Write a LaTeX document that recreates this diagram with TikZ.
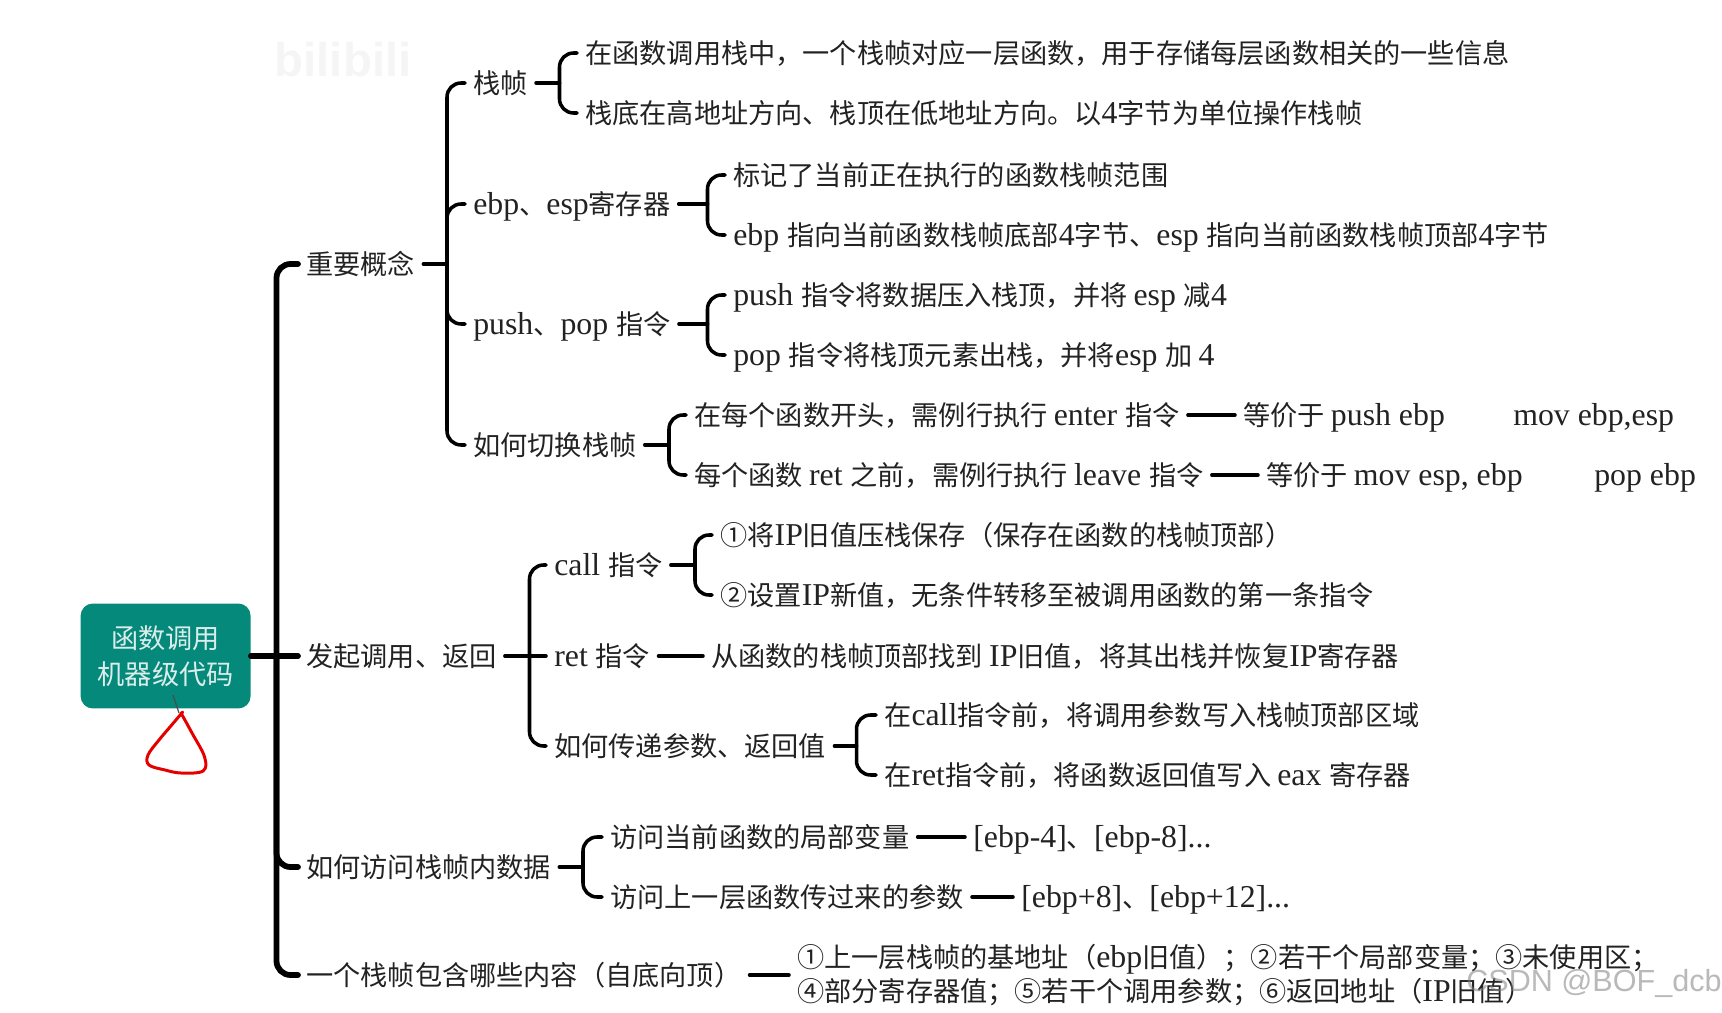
\documentclass[tikz,border=0pt]{standalone}
\usepackage{fontspec}
\setmainfont{Noto Sans CJK SC}
\newfontfamily\enfont[Scale=1.17]{Liberation Serif}
\newfontfamily\wmfont{Liberation Sans}
\newcommand{\en}[1]{{\enfont #1}}
\definecolor{rootgreen}{HTML}{05897A}
\definecolor{inkgray}{HTML}{222222}

\begin{document}
\begin{tikzpicture}[x=0.02cm,y=-0.02cm,
  lbl/.style={anchor=west,inner xsep=8*0.567pt,inner ysep=0pt,text=inkgray,font=\fontsize{15.47}{19.4}\selectfont},
  row/.style={lbl,text height=13.4pt,text depth=1.8pt},
  rootbox/.style={draw=none,fill=rootgreen,rounded corners=7pt,minimum width=3.4cm,minimum height=2.1cm,inner sep=0pt,align=center,text=white!85!rootgreen,font=\fontsize{15.47}{20.5}\selectfont},
  lvone/.style={line width=3.3pt,black,line cap=round,rounded corners=8pt},
  lvtwo/.style={line width=2pt,black,line cap=round,rounded corners=8pt},
  wmark/.style={inner sep=0pt,anchor=east,text=gray,opacity=0.55,font=\wmfont\fontsize{17.4}{20}\selectfont}]
\useasboundingbox (0,0) rectangle (1722,1013);
\node[anchor=center,inner sep=0pt,text=gray!8,font=\wmfont\bfseries\fontsize{27}{27}\selectfont] (bili) at (343,60) {bilibili};
% root and first level
\node[rootbox] (root) at (165.6,656) {函数调用\\机器级代码};
\node[row] (zy) at (298,264) {重要概念};
\node[row] (fq) at (298,656) {发起调用、返回};
\node[row] (fw) at (298,867) {如何访问栈帧内数据};
\node[row] (nr) at (298,975) {一个栈帧包含哪些内容（自底向顶）};
\coordinate (j0) at (276.5,656);
\draw[lvone] (root.east) -- (fq.west);
\foreach \c in {zy,fw,nr} \draw[lvone] (j0) |- (\c.west);
% zhongyao gainian
\node[row] (zhen) at (465,83) {栈帧};
\node[row] (reg) at (465,204) {\en{ebp}、\en{esp}寄存器};
\node[row] (pp) at (465,324) {\en{push}、\en{pop }指令};
\node[row] (sw) at (465,445) {如何切换栈帧};
\coordinate (j1) at (447,264);
\draw[lvtwo] (zy.east) -- (j1);
\foreach \c in {zhen,reg,pp,sw} \draw[lvtwo] (j1) |- (\c.west);
\node[row] (zhen1) at (577,53) {在函数调用栈中，一个栈帧对应一层函数，用于存储每层函数相关的一些信息};
\node[row] (zhen2) at (577,113) {栈底在高地址方向、栈顶在低地址方向。以\en{4}字节为单位操作栈帧};
\coordinate (j2) at (559.5,83);
\draw[lvtwo] (zhen.east) -- (j2);
\foreach \c in {zhen1,zhen2} \draw[lvtwo] (j2) |- (\c.west);
\node[row] (reg1) at (725,175) {标记了当前正在执行的函数栈帧范围};
\node[row] (reg2) at (725,235) {\en{ebp }指向当前函数栈帧底部\en{4}字节、\en{esp }指向当前函数栈帧顶部\en{4}字节};
\coordinate (j3) at (707.5,204);
\draw[lvtwo] (reg.east) -- (j3);
\foreach \c in {reg1,reg2} \draw[lvtwo] (j3) |- (\c.west);
\node[row] (pp1) at (725,295) {\en{push }指令将数据压入栈顶，并将 \en{esp }减\en{4}};
\node[row] (pp2) at (725,355) {\en{pop }指令将栈顶元素出栈，并将\en{esp }加 \en{4}};
\coordinate (j4) at (707.5,324);
\draw[lvtwo] (pp.east) -- (j4);
\foreach \c in {pp1,pp2} \draw[lvtwo] (j4) |- (\c.west);
\node[row] (sw1) at (686,415) {在每个函数开头，需例行执行 \en{enter }指令};
\node[row] (sw2) at (686,475) {每个函数 \en{ret }之前，需例行执行 \en{leave }指令};
\coordinate (j5) at (669,445);
\draw[lvtwo] (sw.east) -- (j5);
\foreach \c in {sw1,sw2} \draw[lvtwo] (j5) |- (\c.west);
\node[row] (eq1) at (1235,415) {等价于 \en{push ebp}};
\node[row] (mov1) at (1505,415) {\en{mov ebp,esp}};
\node[row] (eq2) at (1258,475) {等价于 \en{mov esp, ebp}};
\node[row] (pop2) at (1586,475) {\en{pop ebp}};
\draw[lvtwo] (sw1.east) -- (eq1.west);
\draw[lvtwo] (sw2.east) -- (eq2.west);
% faqi diaoyong
\node[row] (call) at (546,565) {\en{call }指令};
\node[row] (ret) at (546,656) {\en{ret }指令};
\node[row] (cs) at (546,746) {如何传递参数、返回值};
\coordinate (j6) at (529.5,656);
\draw[lvtwo] (fq.east) -- (ret.west);
\foreach \c in {call,cs} \draw[lvtwo] (j6) |- (\c.west);
\node[row] (call1) at (712,535) {①将\en{IP}旧值压栈保存（保存在函数的栈帧顶部）};
\node[row] (call2) at (712,595) {②设置\en{IP}新值，无条件转移至被调用函数的第一条指令};
\coordinate (j7) at (695,565);
\draw[lvtwo] (call.east) -- (j7);
\foreach \c in {call1,call2} \draw[lvtwo] (j7) |- (\c.west);
\node[row] (ret1) at (703,656) {从函数的栈帧顶部找到 \en{IP}旧值，将其出栈并恢复\en{IP}寄存器};
\draw[lvtwo] (ret.east) -- (ret1.west);
\node[row] (cs1) at (876,715) {在\en{call}指令前，将调用参数写入栈帧顶部区域};
\node[row] (cs2) at (876,775) {在\en{ret}指令前，将函数返回值写入 \en{eax }寄存器};
\coordinate (j8) at (856.5,746);
\draw[lvtwo] (cs.east) -- (j8);
\foreach \c in {cs1,cs2} \draw[lvtwo] (j8) |- (\c.west);
% fangwen zhanzhen
\node[row] (fw1) at (602,837) {访问当前函数的局部变量};
\node[row] (fw2) at (602,897) {访问上一层函数传过来的参数};
\coordinate (j9) at (583,867);
\draw[lvtwo] (fw.east) -- (j9);
\foreach \c in {fw1,fw2} \draw[lvtwo] (j9) |- (\c.west);
\node[row] (ebp1) at (965,837) {\en{[ebp-4]}、\en{[ebp-8]...}};
\node[row] (ebp2) at (1013,897) {\en{[ebp+8]}、\en{[ebp+12]...}};
\draw[lvtwo] (fw1.east) -- (ebp1.west);
\draw[lvtwo] (fw2.east) -- (ebp2.west);
% zhanzhen neirong
\node[lbl,align=left] (nr1) at (789,975) {①上一层栈帧的基地址（\en{ebp}旧值）；②若干个局部变量；③未使用区；\\④部分寄存器值；⑤若干个调用参数；⑥返回地址（\en{IP}旧值）};
\draw[lvtwo] (nr.east) -- (nr1.west);
% hand drawn mark
\draw[line width=0.7pt,black!70] (173,695) -- (179,713);
\draw[red!90!black,line width=1.7pt,line cap=round,line join=round] plot[smooth,tension=0.6] coordinates {(182.7,712) (170,727) (159,740) (148,755) (149,765) (165,770) (181,773) (203,771) (204.6,757) (192,733) (181,713)};
\node[wmark] (csdn) at (1722,983) {CSDN @BOF\_dcb};
\end{tikzpicture}
\end{document}
